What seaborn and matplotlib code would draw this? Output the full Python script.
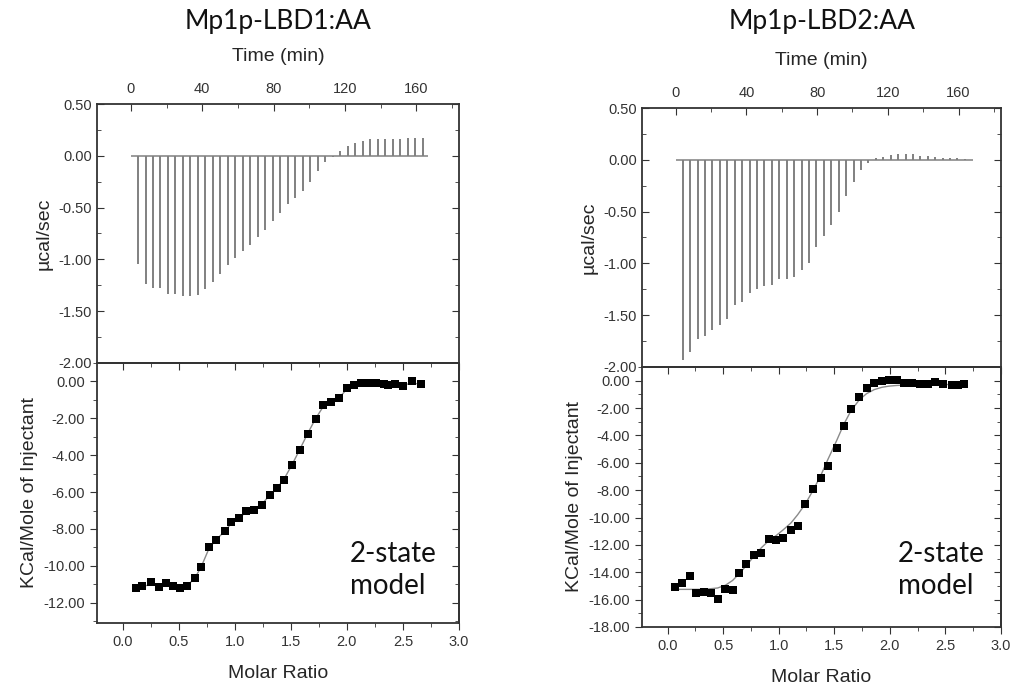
"""ITC titration of Mp1p-LBD1 / LBD2 with arachidonic acid: raw heats and integrated isotherms."""
import matplotlib.pyplot as plt
import numpy as np
import pandas as pd
import seaborn as sns
from matplotlib.ticker import FormatStrFormatter, MultipleLocator

# ---- raw thermogram: injection times (min) and peak heights (ucal/sec) ----
INJ_START = 4.0
INJ_STEP = 4.2
BASELINE_END = [166.7, 168.0]

peaks_lbd1 = [-1.04, -1.24, -1.28, -1.28, -1.33, -1.33, -1.35, -1.35, -1.34, -1.29,
              -1.22, -1.14, -1.05, -0.99, -0.92, -0.86, -0.78, -0.72, -0.63, -0.55,
              -0.47, -0.41, -0.34, -0.25, -0.15, -0.06, -0.01, 0.05, 0.09, 0.12,
              0.14, 0.16, 0.16, 0.16, 0.16, 0.16, 0.17, 0.17, 0.17]
peaks_lbd2 = [-1.93, -1.86, -1.73, -1.70, -1.64, -1.59, -1.54, -1.40, -1.37, -1.29,
              -1.25, -1.22, -1.21, -1.15, -1.15, -1.13, -1.06, -1.00, -0.84, -0.74,
              -0.63, -0.50, -0.35, -0.21, -0.10, -0.03, 0.015, 0.03, 0.05, 0.055,
              0.055, 0.055, 0.04, 0.04, 0.03, 0.02, 0.02, 0.02, 0.01]

# ---- integrated heats: molar ratio vs kcal/mol of injectant ----
ratio_lbd1 = [0.12, 0.17, 0.25, 0.32, 0.385, 0.45, 0.51, 0.576, 0.64, 0.70,
              0.77, 0.83, 0.91, 0.97, 1.04, 1.10, 1.17, 1.24, 1.31, 1.38,
              1.44, 1.51, 1.58, 1.65, 1.72, 1.79, 1.86, 1.93, 2.00, 2.06,
              2.13, 2.20, 2.26, 2.33, 2.37, 2.43, 2.50, 2.58, 2.66]
heat_lbd1 = [-11.18, -11.09, -10.85, -11.16, -10.94, -11.09, -11.21, -11.09, -10.67, -10.07,
             -8.99, -8.62, -8.13, -7.64, -7.41, -7.05, -6.96, -6.68, -6.14, -5.78,
             -5.33, -4.51, -3.70, -2.83, -2.01, -1.30, -1.12, -0.92, -0.38, -0.20,
             -0.11, -0.07, -0.07, -0.16, -0.22, -0.13, -0.25, 0.02, -0.13]
fit_lbd1 = [-11.10, -11.08, -11.05, -11.05, -11.05, -11.08, -11.10, -11.05, -10.70, -10.05,
            -9.05, -8.60, -8.12, -7.68, -7.38, -7.10, -6.92, -6.66, -6.18, -5.76,
            -5.28, -4.52, -3.68, -2.82, -2.02, -1.35, -1.10, -0.88, -0.42, -0.22,
            -0.12, -0.09, -0.10, -0.15, -0.17, -0.16, -0.17, -0.12, -0.12]

ratio_lbd2 = [0.07, 0.13, 0.20, 0.26, 0.33, 0.39, 0.45, 0.52, 0.585, 0.645,
              0.71, 0.78, 0.845, 0.91, 0.98, 1.04, 1.11, 1.17, 1.24, 1.31,
              1.38, 1.44, 1.52, 1.585, 1.65, 1.725, 1.79, 1.86, 1.93, 1.99,
              2.06, 2.13, 2.20, 2.27, 2.34, 2.41, 2.48, 2.555, 2.61, 2.67]
heat_lbd2 = [-15.05, -14.75, -14.26, -15.54, -15.42, -15.54, -15.98, -15.25, -15.29, -14.07,
             -13.38, -12.72, -12.60, -11.54, -11.67, -11.49, -10.88, -10.59, -9.04, -7.94,
             -7.08, -6.27, -4.95, -3.28, -2.06, -1.20, -0.54, -0.15, -0.05, 0.02,
             0.07, -0.15, -0.15, -0.22, -0.27, -0.10, -0.22, -0.29, -0.29, -0.22]
fit_lbd2 = [-15.25, -15.25, -15.25, -15.25, -15.25, -15.20, -15.15, -14.95, -14.60, -14.10,
            -13.50, -12.80, -12.20, -11.70, -11.30, -10.90, -10.40, -9.80, -9.00, -8.00,
            -6.90, -5.80, -4.40, -3.20, -2.20, -1.40, -0.95, -0.65, -0.48, -0.40,
            -0.35, -0.32, -0.30, -0.30, -0.29, -0.29, -0.28, -0.28, -0.28, -0.28]

titles = ["Mp1p-LBD1:AA", "Mp1p-LBD2:AA"]
heat_ylims = [(-13.1, 1.0), (-18.0, 1.0)]
heat_yticks = [np.arange(0, -13, -2), np.arange(0, -19, -2)]

W, H = 1016, 689
sns.set_style("ticks")
plt.rcParams["font.family"] = ["Liberation Sans", "DejaVu Sans"]
INK = "#333333"
plt.rcParams.update({
    "axes.edgecolor": INK, "axes.linewidth": 1.3,
    "xtick.color": INK, "ytick.color": INK,
    "xtick.labelcolor": INK, "ytick.labelcolor": INK,
    "xtick.labelsize": 10.5, "ytick.labelsize": 10.5,
})

fig = plt.figure(figsize=(W / 100, H / 100), dpi=100)


def frac(x0, y0, x1, y1):
    """pixel box (top-left origin) -> figure fraction rect"""
    return [x0 / W, 1 - y1 / H, (x1 - x0) / W, (y1 - y0) / H]


boxes_top = [frac(97, 104, 459, 363), frac(642, 108, 1001, 367)]
boxes_bot = [frac(97, 363, 459, 623), frac(642, 367, 1001, 627)]
title_x = [278, 822]
note_x = [350, 898]

for i, (peaks, ratio, heat, fit) in enumerate([
    (peaks_lbd1, ratio_lbd1, heat_lbd1, fit_lbd1),
    (peaks_lbd2, ratio_lbd2, heat_lbd2, fit_lbd2),
]):
    ax_t = fig.add_axes(boxes_top[i])
    ax_b = fig.add_axes(boxes_bot[i])

    # raw heat-rate trace
    times = INJ_START + INJ_STEP * np.arange(len(peaks))
    ax_t.hlines(0, 0, BASELINE_END[i], color="#808080", lw=1.1)
    ax_t.vlines(times, 0, peaks, color="#808080", lw=1.4)
    ax_t.set_xlim(-19, 184)
    ax_t.set_ylim(-2.0, 0.5)
    ax_t.xaxis.tick_top()
    ax_t.xaxis.set_label_position("top")
    ax_t.xaxis.set_major_locator(MultipleLocator(40))
    ax_t.xaxis.set_minor_locator(MultipleLocator(20))
    ax_t.yaxis.set_major_locator(MultipleLocator(0.5))
    ax_t.yaxis.set_minor_locator(MultipleLocator(0.25))
    ax_t.yaxis.set_major_formatter(FormatStrFormatter("%.2f"))
    ax_t.tick_params(axis="x", which="both", direction="in", top=True, bottom=False, pad=6)
    ax_t.tick_params(axis="y", which="both", direction="in", right=True)
    ax_t.tick_params(axis="y", which="both", left=True, labelleft=True)
    ax_t.tick_params(which="major", length=5)
    ax_t.tick_params(which="minor", length=3)
    for s in ax_t.spines.values():
        s.set_visible(True)
    ax_t.set_xlabel("Time (min)", fontsize=14, labelpad=15)
    ax_t.set_ylabel("µcal/sec", fontsize=14)

    # integrated heats + fit
    df = pd.DataFrame({"ratio": ratio, "heat": heat, "fit": fit})
    sns.lineplot(data=df, x="ratio", y="fit", ax=ax_b, color="#8a8a8a", lw=1.0)
    sns.scatterplot(data=df, x="ratio", y="heat", ax=ax_b, marker="s", s=36,
                    color="black", edgecolor="black", linewidth=0, zorder=3)
    ax_b.set_xlim(-0.23, 3.0)
    ax_b.set_ylim(*heat_ylims[i])
    ax_b.set_yticks(heat_yticks[i])
    ax_b.yaxis.set_minor_locator(MultipleLocator(1))
    ax_b.xaxis.set_major_locator(MultipleLocator(0.5))
    ax_b.xaxis.set_minor_locator(MultipleLocator(0.25))
    ax_b.xaxis.set_major_formatter(FormatStrFormatter("%.1f"))
    ax_b.yaxis.set_major_formatter(FormatStrFormatter("%.2f"))
    ax_b.tick_params(axis="x", which="both", direction="out", top=False)
    ax_b.tick_params(axis="y", which="both", direction="out")
    ax_b.tick_params(which="major", length=5)
    ax_b.tick_params(which="minor", length=3)
    # inward ticks on the shared boundary and right side
    sec_x = ax_b.secondary_xaxis("top")
    sec_x.xaxis.set_major_locator(MultipleLocator(0.5))
    sec_x.xaxis.set_minor_locator(MultipleLocator(0.25))
    sec_x.tick_params(which="both", direction="in", labeltop=False, length=5)
    sec_x.tick_params(which="minor", length=3)
    sec_y = ax_b.secondary_yaxis("right")
    sec_y.set_yticks(heat_yticks[i])
    sec_y.yaxis.set_minor_locator(MultipleLocator(1))
    sec_y.tick_params(which="both", direction="in", labelright=False, length=5)
    sec_y.tick_params(which="minor", length=3)
    for s in ax_b.spines.values():
        s.set_visible(True)
    ax_b.set_xlabel("Molar Ratio", fontsize=14, labelpad=12)
    ax_b.set_ylabel("KCal/Mole of Injectant", fontsize=14)

    fig.text(title_x[i] / W, 1 - 22 / H, titles[i], ha="center", va="center",
             fontsize=19, family=["Lato", "DejaVu Sans"], color="#111111")
    fig.text(note_x[i] / W, 1 - 570 / H, "2-state\nmodel", ha="left", va="center",
             fontsize=20, family=["Lato", "DejaVu Sans"], color="#111111",
             linespacing=1.3)

fig.savefig("out.png", dpi=100)
